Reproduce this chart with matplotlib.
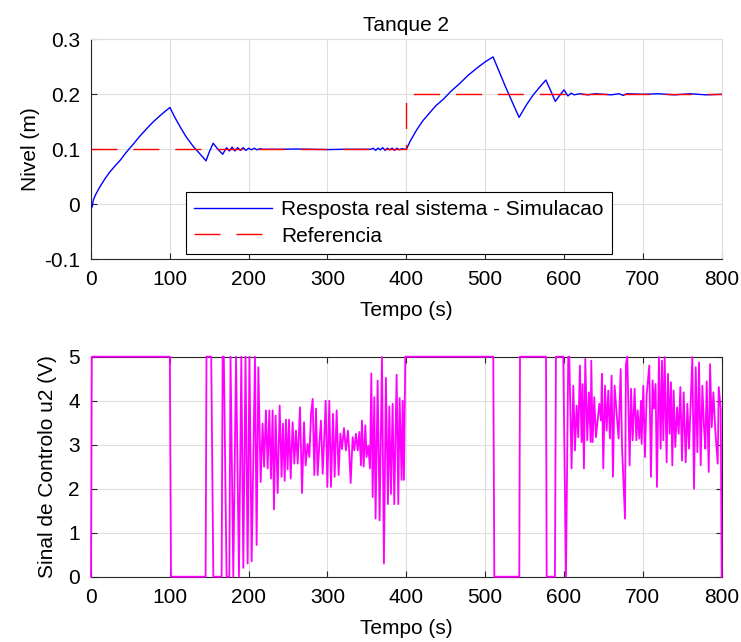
import matplotlib
matplotlib.use("Agg")
import matplotlib.pyplot as plt

# nivel do tanque 2 (m)
nivel_t = [0, 1.5, 3, 6, 11.4, 18, 24, 30, 37, 45, 54, 62, 71, 79, 87.5, 94, 100.2,
           106, 113, 121, 129.8, 138, 145.9, 150, 155, 161, 167, 172, 175.5, 179, 182.5,
           186, 189.5, 193, 196.5, 200, 203.5, 207, 210.5, 214, 218, 240, 260, 280, 300,
           320, 340, 355, 358, 361, 364, 367, 370, 373, 376, 379, 382, 385, 388, 391, 394,
           398.3, 400, 405, 413, 421, 430, 438, 446.9, 457, 468, 478, 489, 500, 510,
           526, 543, 552, 561, 568, 577, 583, 589, 594, 600, 605, 609, 613, 620, 630, 640,
           650, 660, 670, 675, 680, 700, 720, 740, 760, 780, 800]
nivel_v = [0.0, -0.005, 0.008, 0.018, 0.032, 0.047, 0.059, 0.069, 0.08, 0.095, 0.11, 0.124,
           0.138, 0.15, 0.161, 0.169, 0.176, 0.159, 0.141, 0.122, 0.105, 0.092, 0.079, 0.095,
           0.111, 0.1, 0.091, 0.103, 0.097, 0.104, 0.097, 0.103, 0.098, 0.103, 0.098, 0.102,
           0.099, 0.102, 0.099, 0.101, 0.1, 0.1, 0.1005, 0.1, 0.0995, 0.1, 0.1, 0.1, 0.102,
           0.098, 0.102, 0.099, 0.103, 0.098, 0.102, 0.099, 0.102, 0.098, 0.102, 0.099, 0.101,
           0.1, 0.1, 0.115, 0.135, 0.152, 0.167, 0.18, 0.191, 0.206, 0.22, 0.234, 0.247,
           0.259, 0.268, 0.213, 0.158, 0.18, 0.199, 0.211, 0.226, 0.207, 0.187, 0.197, 0.208,
           0.197, 0.202, 0.199, 0.201, 0.199, 0.201, 0.2, 0.199, 0.201, 0.198, 0.201, 0.2,
           0.201, 0.199, 0.201, 0.199, 0.2]

# referencia (m)
ref_t = [0, 400, 400, 800]
ref_v = [0.1, 0.1, 0.2, 0.2]

# sinal de controlo u2 (V)
u2_t = [0, 1, 100, 101.5, 145.4, 146.5, 152.5, 155.2, 165.7, 167, 168.5, 172, 175.5, 177,
        180.5, 184, 187.7, 190.7, 193.2, 196, 198.7, 201, 203.8, 208, 210.1, 212.3,
        215.2, 217.7, 219.6, 221.9, 224.1, 226.2, 228.3, 230.4, 232.1, 234.2, 236.8, 239.3,
        241.8, 243.5, 245.7, 247.3, 249.4, 251.2, 253.3, 255.8, 257.9, 260.0, 262.2, 265.1,
        267.7, 270.2, 272.3, 274.8, 277.0, 279.1, 281.2, 283.3, 285.4, 287.5, 289.7, 291.7,
        293.9, 296.0, 297.7, 299.8, 302.3, 304.4, 307.0, 309.1, 311.6, 314.1, 316.3, 318.4,
        320.9, 323.4, 326.0, 327.7, 329.4, 331.9, 334.0, 336.1, 338.3, 340.4, 342.5, 343.7,
        345.9, 348.0, 349.6, 351.7, 353.9, 355.6, 357.3, 359.4, 361.0, 363.6, 366.1, 369.1,
        371.6, 374.1, 376.7, 378.4, 380.5, 382.6, 384.7, 387.7, 389.8, 391.5, 394.0, 395.3,
        397.0, 398.7,
        510.3, 511.6, 543.3, 544.2, 577.2, 578.0, 579.2, 588.5, 589.8, 599.1, 602.5, 605.4,
        606.7, 609.6, 611.8, 613.9, 616.0, 618.1, 620.2, 622.3, 623.6, 625.3, 627.0, 629.5,
        631.6, 633.8, 634.6, 636.3, 638.4, 640.5, 642.6, 644.8, 646.9, 648.1, 649.8, 652.0,
        654.1, 656.2, 658.3, 660.4, 662.1, 664.2, 666.8, 669.3, 671.9, 673.6, 677.4, 678.6,
        680.3, 683.3, 685.0, 687.1, 689.6, 691.8, 693.5, 695.6, 697.7, 698.5, 700.6, 702.7,
        704.8, 708.2, 710.3, 712.4, 714.1, 716.2, 717.9, 720.5, 722.6, 724.3, 726.0, 727.7,
        730.2, 731.9, 734.0, 735.7, 737.4, 739.1, 741.2, 743.4, 745.5, 747.6, 749.7, 751.8,
        754.4, 756.5, 758.6, 760.7, 762.8, 764.9, 767.1, 769.2, 771.3, 773.4, 775.5, 777.6,
        779.3, 781.0, 783.6, 785.3, 787.4, 789.5, 792.0, 795.0, 796.3, 798.8, 800]
u2_v = [0, 5, 5, 0, 0, 5, 5, 0, 0, 5, 5, 0, 0, 5,
        0, 5, 0, 5, 0.2, 5, 0.3, 5, 0.35, 5, 0.72, 4.76,
        2.15, 3.48, 2.5, 3.78, 2.46, 3.78, 2.23, 3.78, 1.53, 3.66, 1.9, 3.89,
        2.27, 3.48, 2.18, 3.57, 2.44, 3.57, 2.23, 3.51, 2.57, 3.32, 2.57, 3.85,
        1.9, 3.51, 2.53, 3.02, 2.72, 3.7, 4.04, 2.31, 3.82, 2.31, 3.02, 3.55,
        2.34, 3.21, 4.0, 2.04, 4.0, 2.04, 3.7, 2.27, 3.78, 2.31, 3.25, 2.9,
        3.38, 2.87, 3.32, 2.79, 2.13, 3.17, 2.87, 3.25, 2.87, 3.29, 2.53, 3.55,
        2.5, 3.44, 2.72, 2.98, 2.46, 4.62, 1.81, 4.08, 1.32, 4.46, 1.28, 4.99,
        0.3, 4.52, 1.65, 3.87, 1.88, 3.93, 1.65, 4.59, 1.65, 4.06, 2.2, 4.0,
        2.2, 5,
        5, 0, 0, 5, 5, 0, 0, 0, 5, 5, 0, 5,
        5, 2.46, 4.34, 2.87, 3.89, 3.17, 4.8, 3.06, 4.38, 2.46, 4.95, 3.1,
        4.19, 3.06, 4.91, 3.06, 4.08, 3.17, 3.55, 3.93, 3.55, 4.61, 2.46, 4.34,
        3.32, 4.23, 3.14, 4.57, 2.27, 4.34, 3.7, 3.14, 4.72, 2.95, 1.32, 4.83,
        5, 2.53, 4.27, 3.1, 4.27, 3.1, 3.78, 3.14, 4.0, 3.02, 4.34, 2.72,
        4.12, 4.8, 2.27, 4.46, 3.82, 4.38, 2.04, 4.99, 2.91, 4.91, 3.1, 4.99,
        2.6, 4.61, 3.25, 4.42, 2.53, 4.23, 2.95, 3.85, 3.25, 4.31, 2.64, 4.19,
        2.6, 3.93, 2.91, 3.93, 4.99, 2.0, 4.76, 2.83, 4.87, 2.53, 4.34, 3.4,
        2.91, 4.44, 2.38, 4.83, 3.4, 4.19, 3.3, 2.57, 4.31, 3.82, 0]

xticks = [0, 100, 200, 300, 400, 500, 600, 700, 800]
nivel_ticks = [-0.1, 0, 0.1, 0.2, 0.3]
nivel_labels = ["-0.1", "0", "0.1", "0.2", "0.3"]
u2_ticks = [0, 1, 2, 3, 4, 5]

plt.rcParams['font.family'] = ['Liberation Sans', 'DejaVu Sans']
plt.rcParams['font.size'] = 15

dark = '#262626'
grid = '#dfdfdf'


def style(ax, box):
    ax.grid(True, color=grid, linewidth=0.8)
    ax.set_axisbelow(True)
    ax.tick_params(direction='in', length=4.5, width=0.8, color=dark, labelcolor='black',
                   labelsize=15, top=box, right=box)
    ax.tick_params(axis='x', pad=8)
    ax.tick_params(axis='y', pad=8)
    for side in ['left', 'bottom']:
        ax.spines[side].set_color(dark)
        ax.spines[side].set_linewidth(0.8)
    for side in ['top', 'right']:
        ax.spines[side].set_color(dark if box else grid)
        ax.spines[side].set_linewidth(0.8)


fig = plt.figure(figsize=(7.41, 6.42), dpi=100)
ax1 = fig.add_axes([0.1228, 0.5961, 0.8511, 0.3427])
ax2 = fig.add_axes([0.1228, 0.1017, 0.8511, 0.3427])

ax1.plot(nivel_t, nivel_v, color='b', lw=1.0, zorder=3, label='Resposta real sistema - Simulacao')
ax1.plot(ref_t, ref_v, color='r', lw=1.0, dashes=(18.7, 11.5), zorder=3, label='Referencia')
ax1.set_xlim(0, 800)
ax1.set_ylim(-0.1, 0.3)
ax1.set_xticks(xticks)
ax1.set_yticks(nivel_ticks)
ax1.set_yticklabels(nivel_labels)
style(ax1, False)
ax1.set_title('Tanque 2', fontsize=15, pad=6)
ax1.set_xlabel('Tempo (s)')
ax1.set_ylabel('Nivel (m)')
ax1.xaxis.set_label_coords(0.5, -0.19)
ax1.yaxis.set_label_coords(-0.081, 0.5)
leg = ax1.legend(loc='lower left', bbox_to_anchor=(0.1506, 0.024), borderaxespad=0,
                 fancybox=False, framealpha=1, edgecolor='black', fontsize=15,
                 handlelength=3.75, handletextpad=0.4, labelspacing=0.35, borderpad=0.4)
leg.get_frame().set_linewidth(0.8)

ax2.plot(u2_t, u2_v, color='#ff00ff', lw=1.3, zorder=3, clip_on=False)
ax2.set_xlim(0, 800)
ax2.set_ylim(0, 5)
ax2.set_xticks(xticks)
ax2.set_yticks(u2_ticks)
style(ax2, True)
ax2.set_xlabel('Tempo (s)')
ax2.set_ylabel('Sinal de Controlo u2 (V)')
ax2.xaxis.set_label_coords(0.5, -0.19)
ax2.yaxis.set_label_coords(-0.054, 0.5)

fig.savefig('out.png', dpi=100)
